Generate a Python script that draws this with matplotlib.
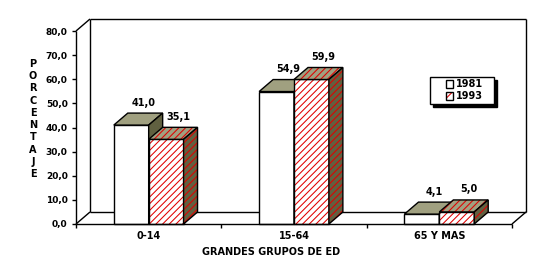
import matplotlib
matplotlib.use("Agg")
import matplotlib.pyplot as plt
from matplotlib.patches import Polygon, Patch
from matplotlib.legend_handler import HandlerTuple
from matplotlib.offsetbox import DrawingArea

categories = ["0-14", "15-64", "65 Y MAS"]
v1981 = [41.0, 54.9, 4.1]
v1993 = [35.1, 59.9, 5.0]
series_names = ["1981", "1993"]
yticks = [0, 10, 20, 30, 40, 50, 60, 70, 80]
ytick_labels = [f"{t:.1f}".replace(".", ",") for t in yticks]
ylabel_text = "PORCENTAJE"
xlabel_text = "GRANDES GRUPOS DE ED"

plt.rcParams["font.family"] = ["DejaVu Sans"]
plt.rcParams["font.weight"] = "bold"
plt.rcParams["hatch.linewidth"] = 0.75

FS = 7
TOP = "#a0a080"
SIDE = "#606040"
HATCH_C = "#e00000"
HATCH = "/////"

fig = plt.figure(figsize=(5.46, 2.70), dpi=100)
ax = fig.add_axes([76 / 546, 46 / 270, 436 / 546, 193 / 270])
ax.set_xlim(-0.5, 2.5)
ax.set_ylim(0, 80)
for s in ax.spines.values():
    s.set_visible(False)

# depth offset in data units
DX = 14 / (436 / 3)
DY = 12 / (193 / 80)

kw = dict(color="black", lw=1, clip_on=False, solid_capstyle="butt")
# back wall
ax.plot([-0.5 + DX, -0.5 + DX], [DY, 80 + DY], zorder=1, **kw)
ax.plot([-0.5 + DX, 2.5 + DX], [80 + DY, 80 + DY], zorder=1, **kw)
ax.plot([2.5 + DX, 2.5 + DX], [DY, 80 + DY], zorder=1, **kw)
ax.plot([-0.5 + DX, 2.5 + DX], [DY, DY], zorder=1, **kw)
# depth edges
ax.plot([-0.5, -0.5 + DX], [0, DY], zorder=1, **kw)
ax.plot([-0.5, -0.5 + DX], [80, 80 + DY], zorder=1, **kw)
ax.plot([2.5, 2.5 + DX], [0, DY], zorder=1, **kw)
# front axes
ax.plot([-0.5, -0.5], [0, 80], zorder=20, **kw)
ax.plot([-0.5, 2.5], [0, 0], zorder=20, **kw)

W = 0.24
offsets = [-0.12, 0.12]
z = 3
for i, cat in enumerate(categories):
    for k, vals in enumerate([v1981, v1993]):
        h = vals[i]
        xc = i + offsets[k]
        x0, x1 = xc - W / 2, xc + W / 2
        hatched = k == 1
        faces = [
            ([(x0, 0), (x1, 0), (x1, h), (x0, h)], "white"),
            ([(x0, h), (x1, h), (x1 + DX, h + DY), (x0 + DX, h + DY)], TOP),
            ([(x1, 0), (x1, h), (x1 + DX, h + DY), (x1 + DX, DY)], SIDE),
        ]
        for pts, fc in faces:
            if hatched:
                ax.add_patch(Polygon(pts, closed=True, facecolor=fc, edgecolor=HATCH_C,
                                     hatch=HATCH, lw=0, zorder=z, clip_on=False))
                ax.add_patch(Polygon(pts, closed=True, fill=False, edgecolor="black",
                                     lw=1, zorder=z + 0.5, clip_on=False))
            else:
                ax.add_patch(Polygon(pts, closed=True, facecolor=fc, edgecolor="black",
                                     lw=1, zorder=z, clip_on=False))
            z += 1
        ax.text(xc + 0.083, h + DY + 2.3, f"{h:.1f}".replace(".", ","), ha="center",
                va="bottom", fontsize=FS, fontweight="bold", zorder=50)

ax.set_yticks(yticks)
ax.set_yticklabels(ytick_labels, fontsize=6.5, fontweight="bold")
ax.tick_params(axis="y", length=3, width=1, pad=3)
ax.set_xticks(range(len(categories)))
ax.set_xticklabels(categories, fontsize=FS, fontweight="bold")
ax.set_xticks([-0.5, 0.5, 1.5, 2.5], minor=True)
ax.tick_params(axis="x", which="major", length=0, pad=5)
ax.tick_params(axis="x", which="minor", length=3, width=1)

fig.text(33 / 546, 1 - 119 / 270, "\n".join(ylabel_text), ha="center", va="center",
         fontsize=FS, fontweight="bold", linespacing=1.28)
fig.text(271 / 546, 1 - 252 / 270, xlabel_text, ha="center", va="center",
         fontsize=7, fontweight="bold")

h1 = Patch(facecolor="white", edgecolor="black", lw=1)
h2a = Patch(facecolor="white", edgecolor=HATCH_C, hatch="///", lw=0)
h2b = Patch(fill=False, edgecolor="black", lw=1)
leg = fig.legend([h1, (h2a, h2b)], series_names, loc="upper left",
                 bbox_to_anchor=(430 / 546, 1 - 77 / 270),
                 handler_map={tuple: HandlerTuple(ndivide=1)},
                 prop={"size": FS, "weight": "bold"}, fancybox=False,
                 edgecolor="black", framealpha=1, shadow={"color": "black", "alpha": 1},
                 handlelength=0.75, handleheight=0.75, handletextpad=0.25,
                 borderpad=0.25, labelspacing=0.2, borderaxespad=0)
leg.get_frame().set_linewidth(1)
# widen the legend box horizontally with invisible spacers
for col in leg._legend_handle_box.get_children():
    for item in col.get_children():
        item.get_children().insert(0, DrawingArea(8, 1))
        item.get_children().append(DrawingArea(4.5, 1))

fig.savefig("out.png", dpi=100)
